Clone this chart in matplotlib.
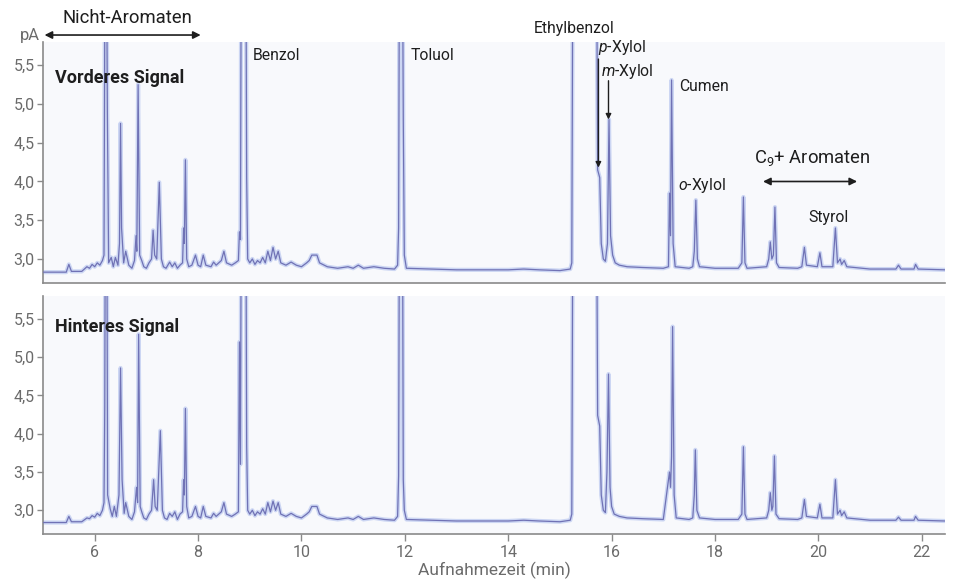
import numpy as np
import matplotlib
matplotlib.use("Agg")
import matplotlib.pyplot as plt

plt.rcParams['font.family'] = ['Roboto', 'DejaVu Sans']
plt.rcParams['mathtext.fontset'] = 'custom'
plt.rcParams['mathtext.rm'] = 'Roboto'
plt.rcParams['mathtext.it'] = 'Roboto:italic'

# ---- data (time in min, signal in pA) ----
front_time = [
    5.00, 5.45, 5.50, 5.55, 5.75, 5.85, 5.90, 5.95, 6.00, 6.05,
    6.10, 6.15, 6.18, 6.20, 6.23, 6.245, 6.27, 6.32, 6.36, 6.40,
    6.45, 6.48, 6.50, 6.52, 6.56, 6.60, 6.66, 6.72, 6.77, 6.80,
    6.815, 6.84, 6.87, 6.91, 6.95, 7.00, 7.05, 7.10, 7.13, 7.16,
    7.20, 7.25, 7.29, 7.33, 7.38, 7.45, 7.50, 7.55, 7.60, 7.65,
    7.70, 7.72, 7.735, 7.755, 7.78, 7.82, 7.88, 7.95, 8.00, 8.05,
    8.10, 8.15, 8.25, 8.30, 8.35, 8.45, 8.50, 8.55, 8.65, 8.72,
    8.78, 8.80, 8.82, 8.835, 8.925, 8.94, 8.96, 9.00, 9.05, 9.10,
    9.15, 9.20, 9.25, 9.30, 9.35, 9.40, 9.45, 9.50, 9.55, 9.60,
    9.70, 9.80, 9.90, 10.00, 10.10, 10.15, 10.20, 10.30, 10.35, 10.50,
    10.70, 10.90, 11.00, 11.10, 11.20, 11.40, 11.60, 11.80, 11.86, 11.88,
    11.895, 11.955, 11.97, 11.99, 12.03, 12.50, 13.00, 13.50, 14.00, 14.30,
    14.60, 15.00, 15.20, 15.23, 15.25, 15.71, 15.73, 15.77, 15.80, 15.84,
    15.88, 15.92, 15.95, 15.98, 16.02, 16.07, 16.15, 16.30, 16.60, 17.00,
    17.10, 17.12, 17.14, 17.16, 17.19, 17.23, 17.50, 17.57, 17.60, 17.63,
    17.66, 17.70, 18.00, 18.45, 18.52, 18.55, 18.58, 18.62, 19.00, 19.04,
    19.07, 19.10, 19.13, 19.16, 19.19, 19.24, 19.60, 19.68, 19.73, 19.77,
    19.98, 20.03, 20.07, 20.28, 20.33, 20.37, 20.42, 20.45, 20.50, 20.55,
    21.00, 21.50, 21.55, 21.60, 21.85, 21.88, 21.93, 22.45,
]
front_signal = [
    2.83, 2.83, 2.93, 2.84, 2.84, 2.90, 2.88, 2.93, 2.90, 2.95,
    2.92, 2.98, 3.05, 7.00, 7.00, 4.90, 2.95, 3.02, 2.90, 3.02,
    2.92, 3.20, 4.75, 3.40, 2.95, 3.10, 2.92, 2.88, 2.98, 3.30,
    3.10, 5.25, 3.05, 2.98, 2.90, 2.88, 2.95, 3.00, 3.37, 3.05,
    3.00, 3.99, 3.00, 2.90, 2.88, 2.96, 2.90, 2.95, 2.88, 2.92,
    2.95, 3.40, 3.20, 4.28, 3.00, 2.90, 2.92, 3.05, 2.92, 2.90,
    3.05, 2.92, 2.90, 2.96, 2.92, 2.98, 3.10, 2.95, 2.92, 2.95,
    2.98, 3.35, 3.25, 7.00, 7.00, 4.05, 3.00, 2.95, 3.00, 2.93,
    2.98, 2.95, 3.02, 2.95, 3.10, 2.98, 3.15, 3.00, 3.10, 2.95,
    2.92, 2.96, 2.92, 2.90, 2.95, 2.98, 3.05, 3.05, 2.95, 2.90,
    2.88, 2.90, 2.88, 2.92, 2.88, 2.90, 2.88, 2.87, 2.92, 3.40,
    7.00, 7.00, 4.80, 3.05, 2.88, 2.87, 2.86, 2.86, 2.86, 2.87,
    2.86, 2.85, 2.87, 2.95, 7.00, 7.00, 4.15, 4.05, 3.20, 3.00,
    2.97, 3.20, 4.80, 3.30, 3.05, 2.95, 2.92, 2.90, 2.89, 2.88,
    2.90, 3.85, 3.30, 5.31, 3.20, 2.90, 2.88, 2.90, 3.10, 3.76,
    3.00, 2.90, 2.88, 2.88, 2.95, 3.80, 2.95, 2.88, 2.90, 3.00,
    3.22, 3.00, 3.05, 3.67, 2.95, 2.89, 2.88, 2.90, 3.15, 2.92,
    2.90, 3.08, 2.90, 2.90, 3.40, 2.95, 3.00, 2.93, 2.98, 2.90,
    2.87, 2.87, 2.92, 2.87, 2.87, 2.93, 2.87, 2.86,
]

back_time = [
    5.00, 5.45, 5.50, 5.55, 5.75, 5.85, 5.90, 5.95, 6.00, 6.05,
    6.10, 6.15, 6.18, 6.195, 6.205, 6.235, 6.25, 6.30, 6.34, 6.38,
    6.42, 6.47, 6.50, 6.53, 6.57, 6.60, 6.66, 6.72, 6.77, 6.81,
    6.83, 6.85, 6.88, 6.91, 6.95, 7.00, 7.05, 7.10, 7.14, 7.17,
    7.21, 7.27, 7.31, 7.35, 7.40, 7.45, 7.50, 7.55, 7.60, 7.65,
    7.70, 7.72, 7.735, 7.755, 7.78, 7.82, 7.88, 7.95, 8.00, 8.05,
    8.10, 8.15, 8.25, 8.30, 8.35, 8.45, 8.50, 8.55, 8.65, 8.72,
    8.78, 8.80, 8.82, 8.835, 8.925, 8.94, 8.96, 9.00, 9.05, 9.10,
    9.15, 9.20, 9.25, 9.30, 9.35, 9.40, 9.45, 9.50, 9.55, 9.60,
    9.70, 9.80, 9.90, 10.00, 10.10, 10.15, 10.20, 10.30, 10.35, 10.50,
    10.70, 10.90, 11.00, 11.10, 11.20, 11.40, 11.60, 11.80, 11.86, 11.88,
    11.895, 11.955, 11.97, 11.99, 12.03, 12.50, 13.00, 13.50, 14.00, 14.30,
    14.60, 15.00, 15.20, 15.23, 15.25, 15.71, 15.73, 15.77, 15.80, 15.84,
    15.88, 15.91, 15.94, 15.97, 16.00, 16.05, 16.15, 16.30, 16.60, 17.00,
    17.12, 17.14, 17.16, 17.18, 17.21, 17.25, 17.50, 17.57, 17.60, 17.62,
    17.65, 17.70, 18.00, 18.45, 18.52, 18.55, 18.58, 18.62, 19.00, 19.04,
    19.07, 19.10, 19.12, 19.15, 19.18, 19.24, 19.60, 19.68, 19.73, 19.77,
    19.98, 20.03, 20.07, 20.28, 20.33, 20.37, 20.42, 20.45, 20.50, 20.55,
    21.00, 21.50, 21.55, 21.60, 21.85, 21.88, 21.93, 22.45,
]
back_signal = [
    2.84, 2.84, 2.92, 2.85, 2.85, 2.90, 2.89, 2.93, 2.91, 2.96,
    2.93, 3.00, 3.10, 4.35, 7.00, 7.00, 3.20, 3.02, 2.92, 3.05,
    2.92, 3.20, 4.86, 3.40, 2.96, 3.10, 2.92, 2.88, 2.98, 3.30,
    3.10, 5.30, 3.05, 2.98, 2.90, 2.88, 2.95, 3.00, 3.40, 3.05,
    3.00, 4.04, 3.00, 2.90, 2.88, 2.96, 2.92, 2.98, 2.88, 2.95,
    2.98, 3.40, 3.20, 4.33, 3.05, 2.90, 2.92, 3.05, 2.92, 2.90,
    3.05, 2.92, 2.90, 2.96, 2.92, 2.98, 3.10, 2.95, 2.92, 2.95,
    2.98, 5.20, 3.60, 7.00, 7.00, 3.84, 3.00, 2.95, 3.00, 2.93,
    2.98, 2.95, 3.02, 2.95, 3.10, 2.98, 3.12, 3.00, 3.10, 2.95,
    2.92, 2.96, 2.92, 2.90, 2.95, 2.98, 3.05, 3.05, 2.95, 2.90,
    2.88, 2.90, 2.88, 2.92, 2.88, 2.90, 2.88, 2.87, 2.92, 3.45,
    7.00, 7.00, 3.40, 3.00, 2.88, 2.87, 2.86, 2.86, 2.86, 2.87,
    2.86, 2.85, 2.87, 2.95, 7.00, 7.00, 4.24, 4.10, 3.20, 3.00,
    2.97, 3.50, 4.78, 3.30, 3.05, 2.95, 2.92, 2.90, 2.89, 2.88,
    3.50, 3.30, 3.70, 5.40, 3.20, 2.90, 2.88, 2.90, 3.20, 3.79,
    3.00, 2.90, 2.88, 2.88, 2.95, 3.83, 2.95, 2.88, 2.90, 3.00,
    3.23, 3.00, 3.05, 3.71, 2.95, 2.89, 2.88, 2.90, 3.14, 2.92,
    2.90, 3.08, 2.90, 2.90, 3.40, 2.95, 3.00, 2.93, 2.98, 2.90,
    2.87, 2.87, 2.91, 2.87, 2.87, 2.92, 2.87, 2.86,
]

y_ticks = [3.0, 3.5, 4.0, 4.5, 5.0, 5.5]
y_tick_labels = ["3,0", "3,5", "4,0", "4,5", "5,0", "5,5"]
x_ticks = [6, 8, 10, 12, 14, 16, 18, 20, 22]
panel_titles = ["Vorderes Signal", "Hinteres Signal"]

# ---- figure ----
W, H = 954, 585
fig = plt.figure(figsize=(W / 100, H / 100), dpi=100)
fig.patch.set_facecolor("white")

left, right = 43 / W, 945 / W
ax1 = fig.add_axes([left, 1 - 283 / H, right - left, (283 - 42) / H])
ax2 = fig.add_axes([left, 1 - 534 / H, right - left, (534 - 296) / H])

GRAY = "#6b6b6b"
SPINE = "#8a8a8a"
LINE = "#7072b5"
HALO = "#ccd6f3"

for ax, t, s, title in [(ax1, front_time, front_signal, panel_titles[0]),
                        (ax2, back_time, back_signal, panel_titles[1])]:
    ax.set_facecolor("#f8f9fc")
    ax.plot(t, s, color=HALO, lw=3.0, solid_joinstyle="round", zorder=2)
    ax.plot(t, s, color=LINE, lw=0.9, solid_joinstyle="round", zorder=3)
    ax.set_xlim(5.0, 22.45)
    ax.set_ylim(2.69, 5.8)
    ax.set_yticks(y_ticks)
    ax.set_yticklabels(y_tick_labels)
    ax.set_xticks(x_ticks)
    for sp in ["top", "right"]:
        ax.spines[sp].set_visible(False)
    for sp in ["left", "bottom"]:
        ax.spines[sp].set_color(SPINE)
        ax.spines[sp].set_linewidth(1.2)
    ax.tick_params(axis="y", colors=SPINE, labelcolor=GRAY, labelsize=11.5,
                   length=4, width=1, pad=2)
    ax.tick_params(axis="x", colors=SPINE, labelcolor=GRAY, labelsize=11.5,
                   length=5, width=1, pad=3)
    ax.text(5.23, 5.33 if ax is ax1 else 5.40, title, fontsize=13, fontweight="bold",
            color="#1e1e1e", va="center", ha="left", zorder=5)

ax1.tick_params(axis="x", length=0, labelbottom=False)
ax2.set_xlabel("Aufnahmezeit (min)", fontsize=12.5, color=GRAY, labelpad=1)

# ---- annotations in the top panel ----
TXT = "#1e1e1e"
kw = dict(fontsize=11.3, color=TXT, va="center", ha="left", clip_on=False, zorder=5)
ax1.text(4.94, 5.89, "pA", fontsize=12, color=GRAY, ha="right", va="center", clip_on=False)
ax1.text(6.63, 6.11, "Nicht-Aromaten", fontsize=13.3, color=TXT, ha="center", va="center", clip_on=False)
ax1.annotate("", xy=(5.03, 5.89), xytext=(8.05, 5.89), annotation_clip=False,
             arrowprops=dict(arrowstyle="<|-|>", color="#1e1e1e", lw=1.2, mutation_scale=11, shrinkA=0, shrinkB=0))
ax1.text(9.05, 5.63, "Benzol", **kw)
ax1.text(12.12, 5.63, "Toluol", **kw)
ax1.text(14.49, 5.98, "Ethylbenzol", **kw)
ax1.text(15.73, 5.73, "$\\it{p}$-Xylol", **kw)
ax1.text(15.80, 5.42, "$\\it{m}$-Xylol", **kw)
ax1.annotate("", xy=(15.745, 4.18), xytext=(15.745, 5.58), annotation_clip=False,
             arrowprops=dict(arrowstyle="-|>", color="#1e1e1e", lw=1.0, mutation_scale=8, shrinkA=0, shrinkB=0))
ax1.annotate("", xy=(15.94, 4.80), xytext=(15.94, 5.30), annotation_clip=False,
             arrowprops=dict(arrowstyle="-|>", color="#1e1e1e", lw=1.0, mutation_scale=8, shrinkA=0, shrinkB=0))
ax1.text(17.31, 5.23, "Cumen", **kw)
ax1.text(17.29, 3.95, "$\\it{o}$-Xylol", **kw)
ax1.text(18.75, 4.30, "C$_9$+ Aromaten", fontsize=13.2, color=TXT, va="center", ha="left")
ax1.annotate("", xy=(18.93, 4.0), xytext=(20.75, 4.0),
             arrowprops=dict(arrowstyle="<|-|>", color="#1e1e1e", lw=1.2, mutation_scale=11, shrinkA=0, shrinkB=0))
ax1.text(19.81, 3.54, "Styrol", **kw)

fig.savefig("out.png", dpi=100, facecolor="white")
